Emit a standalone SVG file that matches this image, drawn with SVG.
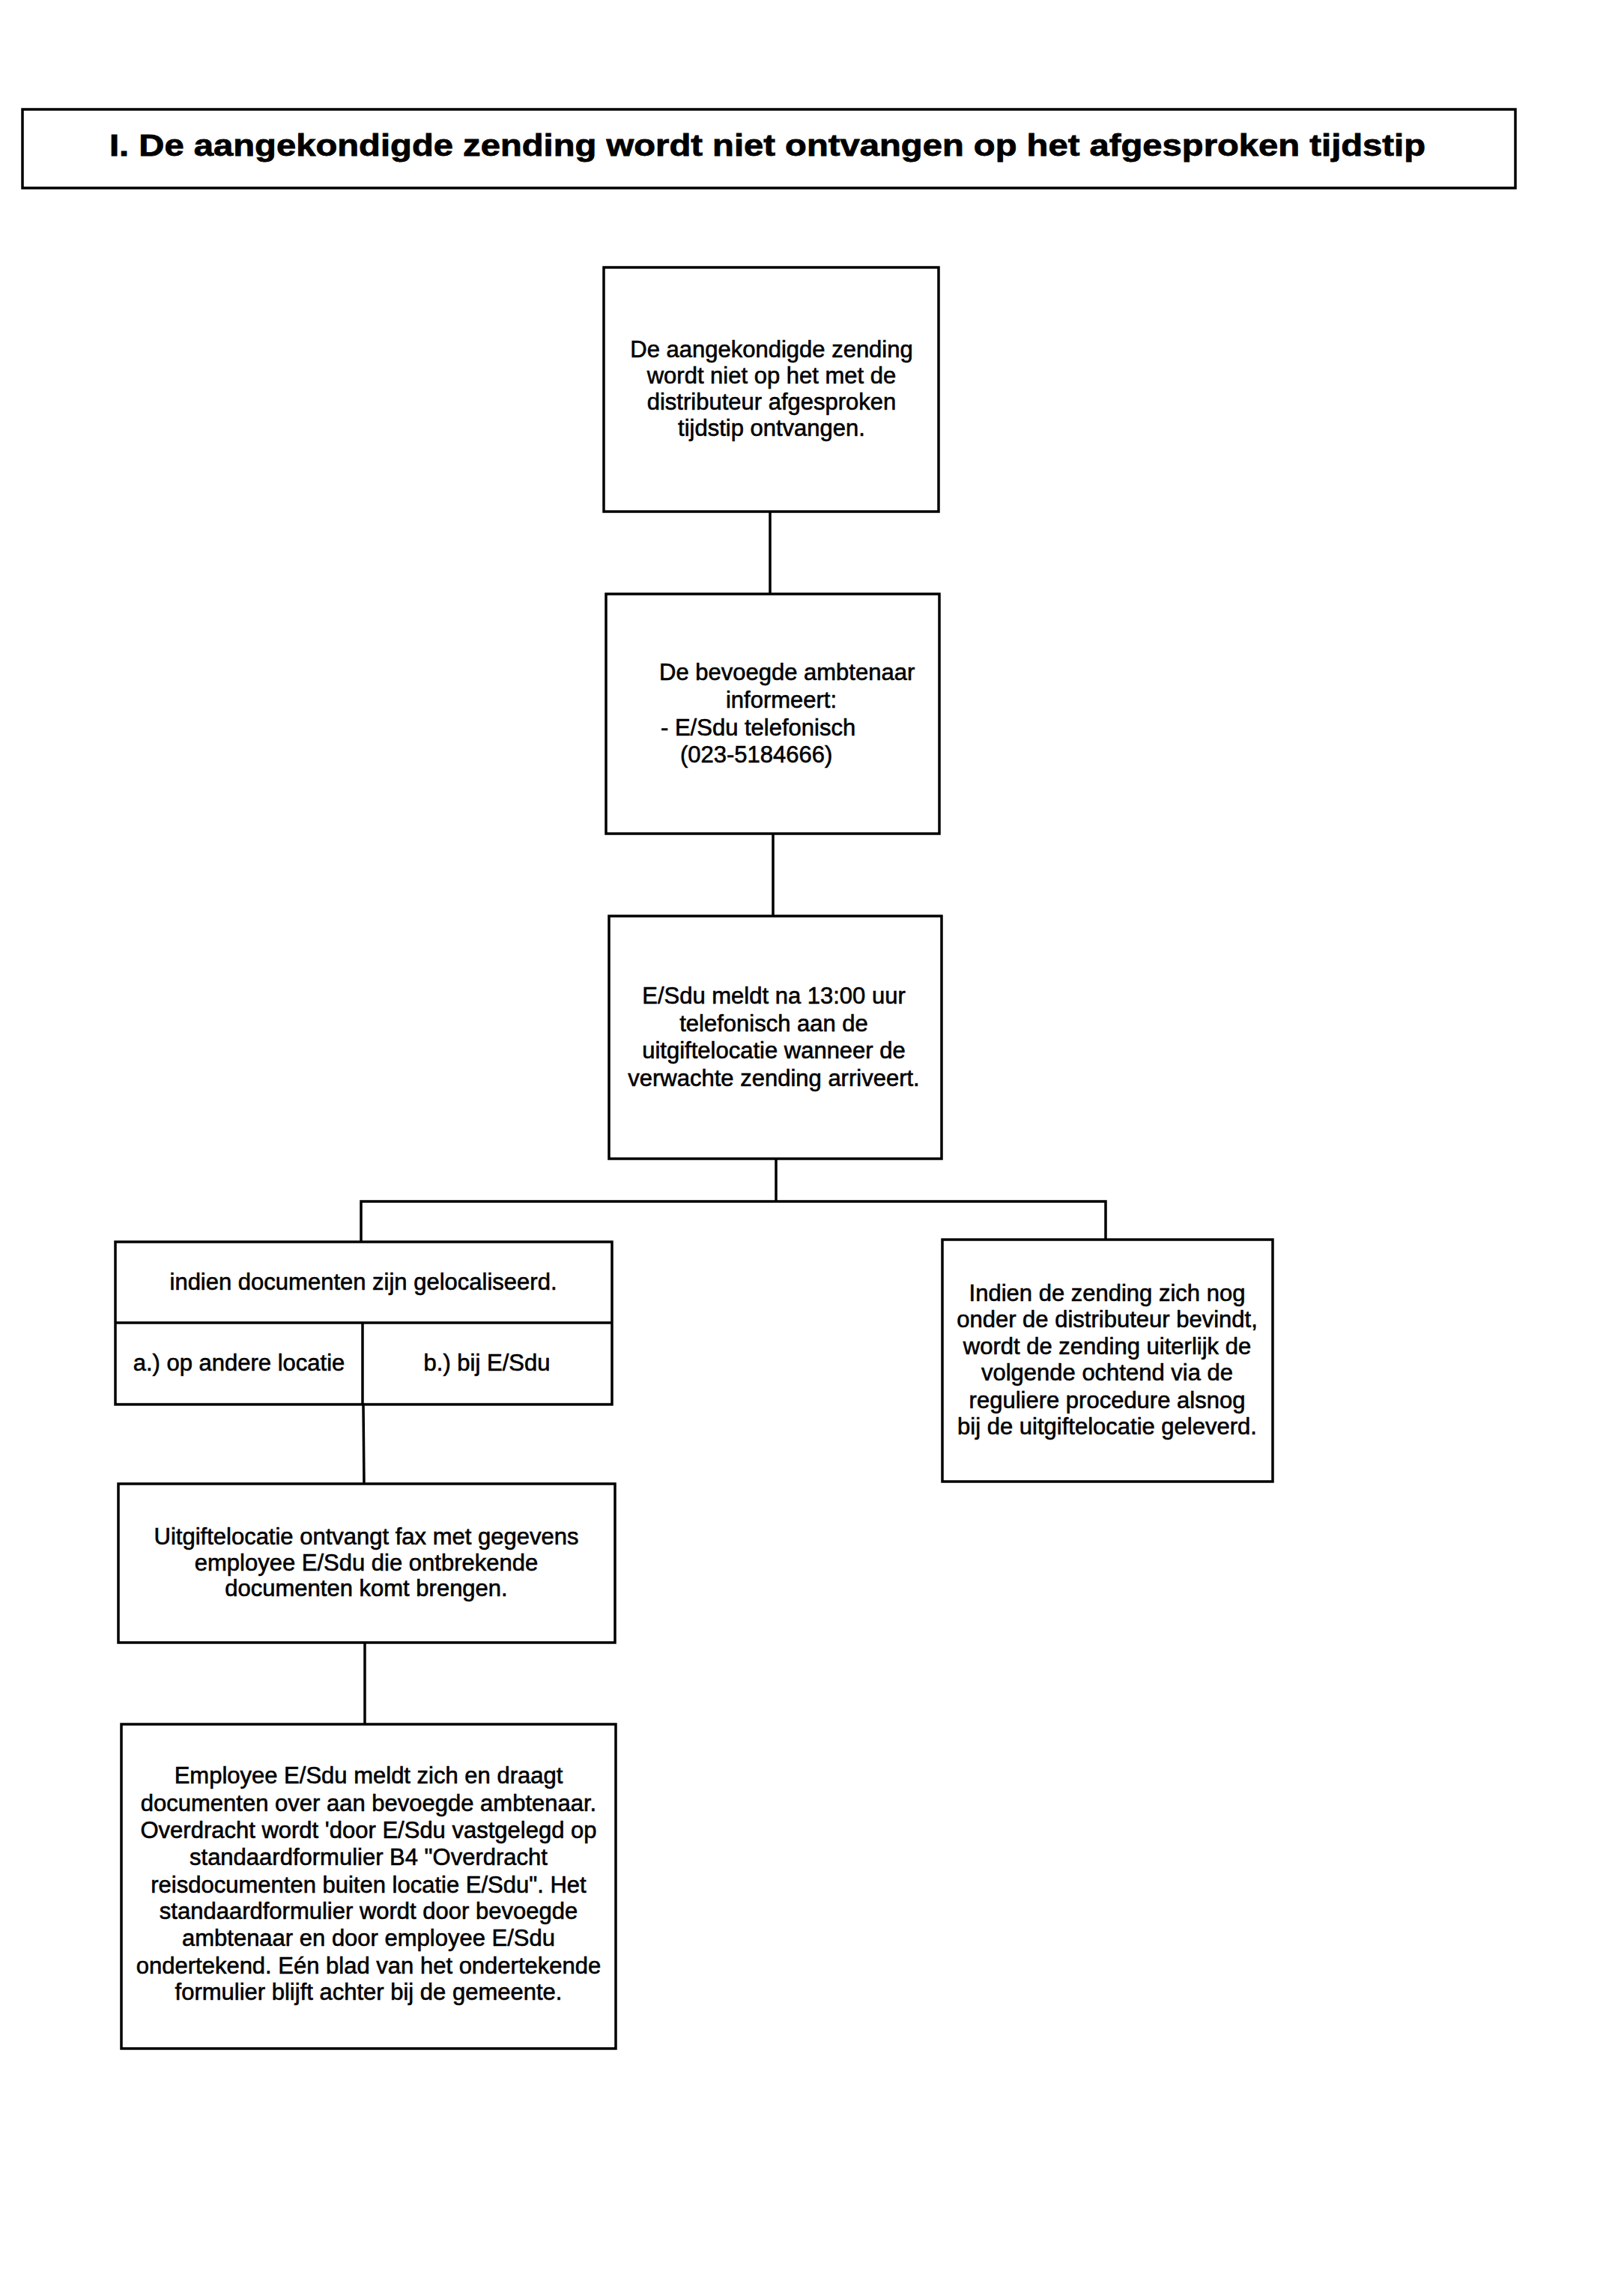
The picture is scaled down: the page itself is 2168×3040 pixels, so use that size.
<svg xmlns="http://www.w3.org/2000/svg" width="2168" height="3040" viewBox="0 0 2168 3040">
<style>
.box{fill:#fff;stroke:#000;stroke-width:3.5}
.ln{fill:none;stroke:#000;stroke-width:3.5}
text{font-family:"Liberation Sans",Arial,sans-serif;font-size:31px;fill:#000;stroke:#000;stroke-width:0.6}
.c{text-anchor:middle}
.title{font-size:40px;font-weight:bold;stroke-width:0.8}
</style>
<rect x="0" y="0" width="2168" height="3040" fill="#fff"/>
<g id="connectors">
<line class="ln" x1="1028" y1="683" x2="1028" y2="793"/>
<line class="ln" x1="1032" y1="1113" x2="1032" y2="1223"/>
<polyline class="ln" points="1036,1547 1036,1604"/>
<polyline class="ln" points="482,1658 482,1604 1476,1604 1476,1655"/>
<line class="ln" x1="485" y1="1875" x2="486" y2="1981"/>
<line class="ln" x1="487" y1="2193" x2="487" y2="2302"/>
</g>
<g id="title">
<rect class="box" x="30" y="146" width="1993" height="105"/>
<text class="title" x="146" y="208" textLength="1757" lengthAdjust="spacingAndGlyphs">I. De aangekondigde zending wordt niet ontvangen op het afgesproken tijdstip</text>
</g>
<g id="node1">
<rect class="box" x="806" y="357" width="447" height="326"/>
<text class="c" x="1030" y="477">De aangekondigde zending</text>
<text class="c" x="1030" y="512">wordt niet op het met de</text>
<text class="c" x="1030" y="547">distributeur afgesproken</text>
<text class="c" x="1030" y="582">tijdstip ontvangen.</text>
</g>
<g id="node2">
<rect class="box" x="809" y="793" width="445" height="320"/>
<text x="880" y="908">De bevoegde ambtenaar</text>
<text class="c" x="1043" y="945">informeert:</text>
<text x="882" y="982">- E/Sdu telefonisch</text>
<text x="908" y="1018">(023-5184666)</text>
</g>
<g id="node3">
<rect class="box" x="813" y="1223" width="444" height="324"/>
<text class="c" x="1033" y="1340">E/Sdu meldt na 13:00 uur</text>
<text class="c" x="1033" y="1377">telefonisch aan de</text>
<text class="c" x="1033" y="1413">uitgiftelocatie wanneer de</text>
<text class="c" x="1033" y="1450">verwachte zending arriveert.</text>
</g>
<g id="node4">
<rect class="box" x="154" y="1658" width="663" height="217"/>
<line class="ln" x1="154" y1="1766" x2="817" y2="1766"/>
<line class="ln" x1="484" y1="1766" x2="484" y2="1875"/>
<text class="c" x="485" y="1722">indien documenten zijn gelocaliseerd.</text>
<text class="c" x="319" y="1830">a.) op andere locatie</text>
<text class="c" x="650" y="1830">b.) bij E/Sdu</text>
</g>
<g id="node5">
<rect class="box" x="1258" y="1655" width="441" height="323"/>
<text class="c" x="1478" y="1737">Indien de zending zich nog</text>
<text class="c" x="1478" y="1772">onder de distributeur bevindt,</text>
<text class="c" x="1478" y="1808">wordt de zending uiterlijk de</text>
<text class="c" x="1478" y="1843">volgende ochtend via de</text>
<text class="c" x="1478" y="1880">reguliere procedure alsnog</text>
<text class="c" x="1478" y="1915">bij de uitgiftelocatie geleverd.</text>
</g>
<g id="node6">
<rect class="box" x="158" y="1981" width="663" height="212"/>
<text class="c" x="489" y="2062">Uitgiftelocatie ontvangt fax met gegevens</text>
<text class="c" x="489" y="2097">employee E/Sdu die ontbrekende</text>
<text class="c" x="489" y="2131">documenten komt brengen.</text>
</g>
<g id="node7">
<rect class="box" x="162" y="2302" width="660" height="433"/>
<text class="c" x="492" y="2381">Employee E/Sdu meldt zich en draagt</text>
<text class="c" x="492" y="2418">documenten over aan bevoegde ambtenaar.</text>
<text class="c" x="492" y="2454">Overdracht wordt 'door E/Sdu vastgelegd op</text>
<text class="c" x="492" y="2490">standaardformulier B4 "Overdracht</text>
<text class="c" x="492" y="2527">reisdocumenten buiten locatie E/Sdu". Het</text>
<text class="c" x="492" y="2562">standaardformulier wordt door bevoegde</text>
<text class="c" x="492" y="2598">ambtenaar en door employee E/Sdu</text>
<text class="c" x="492" y="2635">ondertekend. Eén blad van het ondertekende</text>
<text class="c" x="492" y="2670">formulier blijft achter bij de gemeente.</text>
</g>
</svg>
